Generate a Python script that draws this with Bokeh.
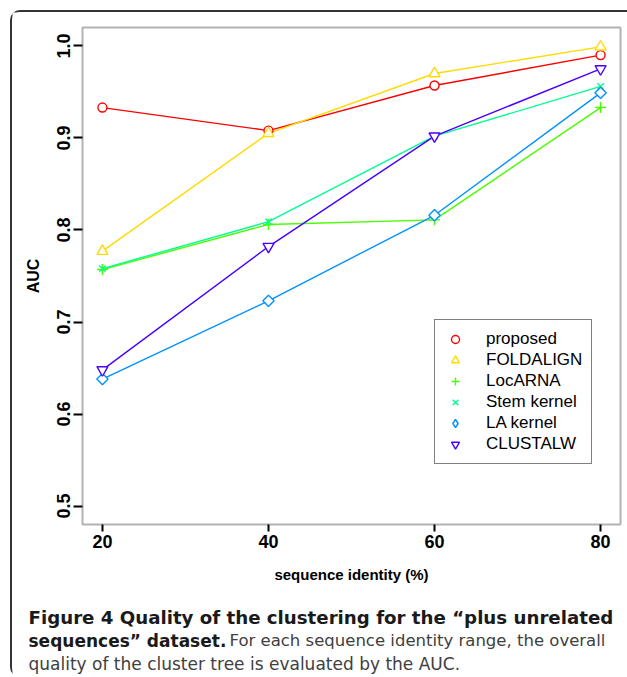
import math
from bokeh.plotting import figure
from bokeh.layouts import column
from bokeh.models import (Range1d, FixedTicker, Legend, LegendItem, Label, LinearAxis,
                          BoxAnnotation)
from bokeh.embed import file_html
from bokeh.resources import INLINE

# ---- data ----
identity = [20, 40, 60, 80]
series_names = ["proposed", "FOLDALIGN", "LocARNA", "Stem kernel", "LA kernel", "CLUSTALW"]
proposed = [0.933, 0.908, 0.957, 0.990]
foldalign = [0.777, 0.905, 0.970, 0.999]
locarna = [0.757, 0.806, 0.811, 0.933]
stem_kernel = [0.758, 0.809, 0.902, 0.956]
la_kernel = [0.638, 0.723, 0.816, 0.949]
clustalw = [0.648, 0.782, 0.902, 0.975]
x_ticks = [20, 40, 60, 80]
y_ticks = [0.5, 0.6, 0.7, 0.8, 0.9, 1.0]
y_tick_labels = ["0.5", "0.6", "0.7", "0.8", "0.9", "1.0"]
x_label = "sequence identity (%)"
y_label = "AUC"
caption_bold_1 = "Figure 4 Quality of the clustering for the \u201cplus unrelated"
caption_bold_2 = "sequences\u201d dataset."
caption_reg_2 = "For each sequence identity range, the overall"
caption_reg_3 = "quality of the cluster tree is evaluated by the AUC."

series_values = [proposed, foldalign, locarna, stem_kernel, la_kernel, clustalw]
colors = ["#FF0000", "#FFDB00", "#49FF00", "#00FF92", "#0092FF", "#4900FF"]
markers = ["circle", "triangle", "cross", "x", "square", "inverted_triangle"]
legend_markers = ["circle", "triangle", "cross", "x", "diamond", "inverted_triangle"]
msizes = [9, 11, 11, 9, 8, 11]
angles = [0, 0, 0, 0, math.pi / 4, 0]

# ---- layout (page pixels) ----
ORIGIN_X, ORIGIN_Y = 12, 12          # canvas origin on the page (after css border)
W, H = 615, 665                      # canvas size
BOX_L, BOX_R, BOX_T, BOX_B = 82, 620, 27, 524   # plotting box on the page
X_USR = (17.6, 82.4)                 # data limits of the plotting box
Y_USR = (0.48, 1.02)

kx = (BOX_R - BOX_L) / (X_USR[1] - X_USR[0])
ky = (BOX_B - BOX_T) / (Y_USR[1] - Y_USR[0])
x_start = X_USR[0] - (BOX_L - ORIGIN_X) / kx
x_end = X_USR[1] + (ORIGIN_X + W - BOX_R) / kx
y_end = Y_USR[1] + (BOX_T - ORIGIN_Y) / ky
y_start = Y_USR[0] - (ORIGIN_Y + H - BOX_B) / ky

def sx(page_x):
    return page_x - ORIGIN_X

def sy(page_y):
    return ORIGIN_Y + H - page_y

FONT = "Liberation Sans"

p = figure(width=W, height=H, output_backend="svg", toolbar_location=None,
           x_range=Range1d(x_start, x_end), y_range=Range1d(y_start, y_end),
           x_axis_location=None, y_axis_location=None,
           min_border=0, min_border_left=0, min_border_right=0,
           min_border_top=0, min_border_bottom=0)
p.xgrid.visible = False
p.ygrid.visible = False
p.outline_line_color = None
p.background_fill_color = "white"
p.border_fill_color = "white"

xaxis = LinearAxis(fixed_location=Y_USR[0], ticker=FixedTicker(ticks=x_ticks),
                   axis_label=x_label, bounds=X_USR)
yaxis = LinearAxis(fixed_location=X_USR[0], ticker=FixedTicker(ticks=y_ticks),
                   axis_label=y_label, bounds=Y_USR)
for ax in (xaxis, yaxis):
    ax.axis_line_color = None
    ax.major_tick_line_color = "black"
    ax.major_tick_line_width = 2
    ax.major_tick_in = 0
    ax.minor_tick_line_color = None
    ax.major_label_text_font = FONT
    ax.major_label_text_font_style = "bold"
    ax.major_label_text_font_size = "18px"
    ax.major_label_text_color = "black"
    ax.axis_label_text_font = FONT
    ax.axis_label_text_font_style = "bold"
    ax.axis_label_text_color = "black"

xaxis.major_tick_out = 7
xaxis.major_label_standoff = 3
xaxis.axis_label_text_font_size = "15px"
xaxis.axis_label_standoff = 15

yaxis.major_label_overrides = {t: s for t, s in zip(y_ticks, y_tick_labels)}
yaxis.major_tick_out = 9
yaxis.major_label_orientation = "vertical"
yaxis.major_label_standoff = 3
yaxis.axis_label_text_font_size = "16px"
yaxis.axis_label_standoff = 13

p.add_layout(xaxis, "below")
p.add_layout(yaxis, "left")

# plotting box (R box())
p.add_layout(BoxAnnotation(left=X_USR[0], right=X_USR[1], bottom=Y_USR[0], top=Y_USR[1],
                           fill_color=None, fill_alpha=0, line_color="black",
                           line_width=2, level="underlay"))

for vals, c in zip(series_values, colors):
    p.line(identity, vals, line_color=c, line_width=1.4)

items = []
for name, vals, c, m, lm, s, a in zip(series_names, series_values, colors, markers,
                                       legend_markers, msizes, angles):
    r = p.scatter(identity, vals, marker=m, size=s, angle=a, line_color=c, line_width=1.4,
                  fill_color="white")
    if lm != m:
        r_leg = p.scatter(identity, vals, marker=lm, size=s, line_color=c, line_width=1.4,
                          fill_color="white", visible=False)
        items.append(LegendItem(label=name, renderers=[r_leg]))
    else:
        items.append(LegendItem(label=name, renderers=[r]))

legend = Legend(items=items, location=(sx(434), sy(464)), padding=9, spacing=1,
                glyph_width=22, glyph_height=20, label_height=20, label_standoff=20,
                label_text_font=FONT, label_text_font_size="17px", label_text_color="black",
                border_line_color="black", border_line_width=1,
                background_fill_color="white", background_fill_alpha=1.0,
                click_policy="none")
p.add_layout(legend, "center")

# ---- caption ----
CAP = "DejaVu Sans"
BOLD_C = "#1a1a1a"
REG_C = "#404040"
p.add_layout(Label(x=sx(28), y=sy(617), x_units="screen", y_units="screen",
                   text=caption_bold_1, text_font=CAP, text_font_style="bold",
                   text_font_size="18.2px", text_color=BOLD_C, text_baseline="alphabetic"))
p.add_layout(Label(x=sx(28), y=sy(640), x_units="screen", y_units="screen",
                   text=caption_bold_2, text_font=CAP, text_font_style="bold",
                   text_font_size="17px", text_color=BOLD_C, text_baseline="alphabetic"))
p.add_layout(Label(x=sx(229), y=sy(640), x_units="screen", y_units="screen",
                   text=caption_reg_2, text_font=CAP,
                   text_font_size="16.5px", text_color=REG_C, text_baseline="alphabetic"))
p.add_layout(Label(x=sx(28), y=sy(663), x_units="screen", y_units="screen",
                   text=caption_reg_3, text_font=CAP,
                   text_font_size="17px", text_color=REG_C, text_baseline="alphabetic"))

layout = column(p, spacing=0,
                styles={"margin-left": "10px", "margin-top": "10px",
                        "border-top": "2px solid #333333",
                        "border-left": "2px solid #333333",
                        "border-top-left-radius": "10px",
                        "border-bottom-left-radius": "10px"})

open("out.html", "w").write(file_html(layout, INLINE))
